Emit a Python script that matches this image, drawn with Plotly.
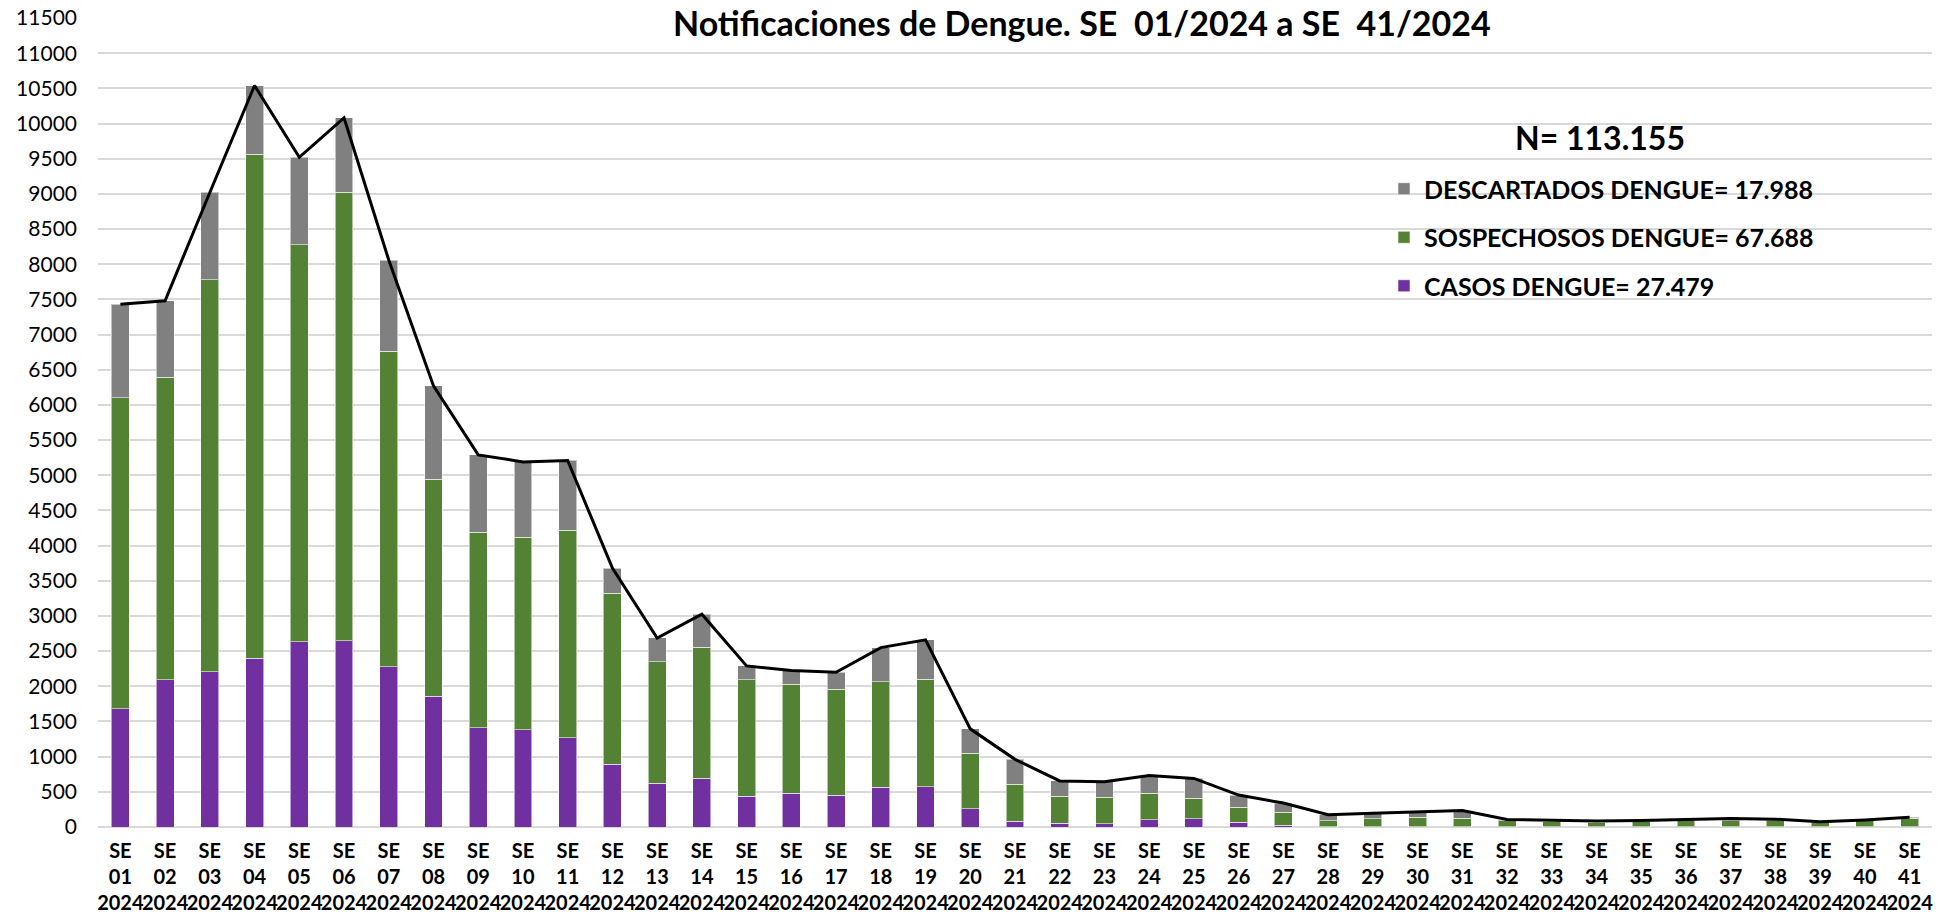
import plotly.graph_objects as go

semanas = [f"{i:02d}" for i in range(1, 42)]
x_labels = [f"SE<br>{s}<br>2024" for s in semanas]

casos = [1680, 2090, 2210, 2400, 2630, 2650, 2280, 1860, 1410, 1380, 1270, 890, 625, 690,
         440, 480, 450, 565, 575, 260, 80, 50, 45, 100, 115, 65, 22, 5, 3, 3, 3, 2, 2,
         1, 1, 1, 1, 1, 1, 1, 1]
sospechosos = [4420, 4300, 5570, 7160, 5650, 6370, 4480, 3080, 2780, 2740, 2950, 2435, 1725,
               1865, 1655, 1550, 1510, 1500, 1525, 785, 525, 385, 377, 381, 296, 214, 188,
               85, 111, 135, 121, 84, 80, 70, 80, 89, 89, 85, 70, 85, 127]
descartados = [1330, 1090, 1240, 980, 1240, 1060, 1300, 1330, 1100, 1070, 990, 355, 337, 470,
               195, 195, 240, 485, 560, 350, 357, 220, 220, 250, 280, 175, 130, 85, 80, 80,
               110, 20, 15, 15, 10, 20, 30, 25, 5, 15, 10]
totales = [c + s + d for c, s, d in zip(casos, sospechosos, descartados)]

titulo = "Notificaciones de Dengue. SE\u00a0 01/2024 a SE\u00a0 41/2024"
nombres = {
    "casos": "CASOS DENGUE= 27.479",
    "sosp": "SOSPECHOSOS DENGUE= 67.688",
    "desc": "DESCARTADOS DENGUE= 17.988",
}
n_total = "N= 113.155"

FONT = "Lato"
edge = dict(color="rgba(255,255,255,0.55)", width=1)

L, R, T, B = 98, 19, 18, 88
W, H = 1951, 915
PW, PH = W - L - R, H - T - B


def px_x(x):
    return (x - L) / PW


def px_y(y):
    return (H - B - y) / PH


fig = go.Figure()
fig.add_trace(go.Bar(x=x_labels, y=casos, name="<b>" + nombres["casos"] + "</b>",
                     legendgroup="c", legendrank=3,
                     marker=dict(color="#7030A0", line=edge)))
fig.add_trace(go.Bar(x=x_labels, y=sospechosos, name="<b>" + nombres["sosp"] + "</b>",
                     legendgroup="s", legendrank=2,
                     marker=dict(color="#548235", line=edge)))
fig.add_trace(go.Bar(x=x_labels, y=descartados, name="<b>" + nombres["desc"] + "</b>",
                     legendgroup="d", legendrank=1,
                     marker=dict(color="#808080", line=edge)))
fig.add_trace(go.Scatter(x=x_labels, y=totales, mode="lines", showlegend=False,
                         line=dict(color="#000000", width=3)))

fig.update_layout(
    width=W, height=H,
    barmode="stack", bargap=0.6,
    plot_bgcolor="white", paper_bgcolor="white",
    margin=dict(l=L, r=R, t=T, b=B),
    font=dict(family=FONT, color="#000000"),
    legend=dict(
        x=px_x(1384), y=px_y(166), xanchor="left", yanchor="top",
        traceorder="grouped", tracegroupgap=13,
        font=dict(family=FONT, size=25, color="#000000"),
        bgcolor="rgba(0,0,0,0)",
    ),
    annotations=[
        dict(text="<b>" + titulo + "</b>", xref="paper", yref="paper",
             x=px_x(1082), y=px_y(0), xanchor="center", yanchor="top",
             showarrow=False, font=dict(family=FONT, size=34, color="#000000")),
        dict(text="<b>" + n_total + "</b>", xref="paper", yref="paper",
             x=px_x(1600), y=px_y(137), xanchor="center", yanchor="middle",
             showarrow=False, font=dict(family=FONT, size=32, color="#000000")),
    ],
)
fig.update_yaxes(range=[0, 11500], dtick=500, tickformat="d", automargin=False,
                 showgrid=True, gridcolor="#D9D9D9",
                 gridwidth=1.5, zeroline=True, zerolinecolor="#D9D9D9", zerolinewidth=1.5,
                 showline=False, ticks="", ticklabelstandoff=20,
                 tickfont=dict(family=FONT, size=21, color="#000000"))
fig.update_xaxes(showgrid=False, showline=False, ticks="", tickangle=0, automargin=False,
                 tickfont=dict(family=FONT, size=20, color="#000000"),
                 ticklabelstandoff=10)
fig.for_each_xaxis(lambda a: a.update(tickvals=x_labels,
                                      ticktext=[f"<b>{t}</b>" for t in x_labels]))

fig.write_html("out.html",
               config={"displayModeBar": False},
               post_script="document.body.style.margin='0px';"
                           "document.body.style.overflow='hidden';")
